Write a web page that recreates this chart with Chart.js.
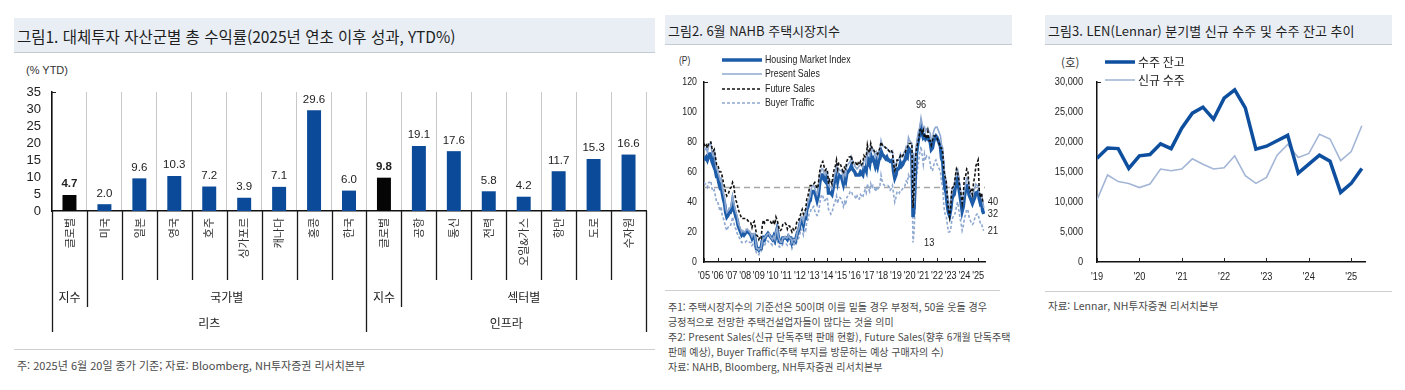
<!DOCTYPE html>
<html lang="ko">
<head>
<meta charset="utf-8">
<script src="https://cdn.jsdelivr.net/npm/chart.js@4.4.1/dist/chart.umd.min.js"></script>
<style>
  body { margin: 0; width: 1405px; height: 390px; background: #fff; position: relative; overflow: hidden;
         font-family: "Liberation Sans", "Noto Sans CJK KR", sans-serif; color: #222; }
  canvas { position: absolute; }
  .title { position: absolute; background: #e9eef5; border-bottom: 1px solid #c3cad4; box-sizing: border-box;
           white-space: nowrap; font-family: "Noto Sans CJK KR", sans-serif; color: #1e1e1e; }
  .rule { position: absolute; height: 0; border-top: 1.5px solid #cfcfcf; }
  .note { position: absolute; white-space: nowrap; color: #4a4a4a; font-family: "Noto Sans CJK KR", sans-serif; }
  .unit { position: absolute; white-space: nowrap; color: #333; }
</style>
</head>
<body>

<div class="title" style="left:14px; top:18px; width:641px; height:35px; font-size:15.5px; line-height:36px; padding-left:3px;">그림1. 대체투자 자산군별 총 수익률(2025년 연초 이후 성과, YTD%)</div>
<div class="unit" style="left:26px; top:64px; font-size:11px;">(% YTD)</div>
<canvas id="returnsChart" width="655" height="290" style="left:0; top:55px;"></canvas>
<div class="rule" style="left:14px; top:349px; width:641px;"></div>
<div class="note" style="left:17px; top:357px; font-size:11px;">주: 2025년 6월 20일 종가 기준; 자료: Bloomberg, NH투자증권 리서치본부</div>

<div class="title" style="left:665px; top:15px; width:347px; height:30px; font-size:13px; line-height:32px; padding-left:3px;">그림2. 6월 NAHB 주택시장지수</div>
<div class="unit" style="left:679px; top:55px; font-size:10px; transform:scaleX(0.85); transform-origin:left;">(P)</div>
<canvas id="nahbChart" width="340" height="240" style="left:664px; top:50px;"></canvas>
<div class="rule" style="left:665px; top:290px; width:335px;"></div>
<div class="note" style="left:668px; top:299px; font-size:10px;">주1: 주택시장지수의 기준선은 50이며 이를 밑돌 경우 부정적, 50을 웃돌 경우</div>
<div class="note" style="left:668px; top:314px; font-size:10px;">긍정적으로 전망한 주택건설업자들이 많다는 것을 의미</div>
<div class="note" style="left:668px; top:329px; font-size:10px;">주2: Present Sales(신규 단독주택 판매 현황), Future Sales(향후 6개월 단독주택</div>
<div class="note" style="left:668px; top:344px; font-size:10px;">판매 예상), Buyer Traffic(주택 부지를 방문하는 예상 구매자의 수)</div>
<div class="note" style="left:668px; top:359px; font-size:10px;">자료: NAHB, Bloomberg, NH투자증권 리서치본부</div>

<div class="title" style="left:1045px; top:15px; width:347px; height:30px; font-size:13px; line-height:32px; padding-left:3px;">그림3. LEN(Lennar) 분기별 신규 수주 및 수주 잔고 추이</div>
<div class="unit" style="left:1061px; top:54px; font-size:11.5px; font-family:'Noto Sans CJK KR';">(호)</div>
<canvas id="lennarChart" width="340" height="240" style="left:1050px; top:50px;"></canvas>
<div class="rule" style="left:1045px; top:291px; width:347px;"></div>
<div class="note" style="left:1048px; top:298px; font-size:10.5px;">자료: Lennar, NH투자증권 리서치본부</div>

<script>
// ===== 그림1: 자산군별 YTD 수익률 =====
const assetLabels = ['글로벌', '미국', '일본', '영국', '호주', '싱가포르', '캐나다', '홍콩', '한국',
                     '글로벌', '공항', '통신', '전력', '오일&가스', '항만', '도로', '수자원'];
const assetReturns = [4.7, 2.0, 9.6, 10.3, 7.2, 3.9, 7.1, 29.6, 6.0, 9.8, 19.1, 17.6, 5.8, 4.2, 11.7, 15.3, 16.6];
const indexSlots = [0, 9];   // 지수(글로벌) 막대는 검정
// 하단 그룹 라벨: [텍스트, 시작 인덱스, 끝 인덱스]
const groupRow1 = [['지수', 0, 0], ['국가별', 1, 8], ['지수', 9, 9], ['섹터별', 10, 16]];
const groupRow2 = [['리츠', 0, 8], ['인프라', 9, 16]];

// ===== 그림2: NAHB 주택시장지수 (월간, 2005.01 ~ 2025.06) =====
const nahbYears = ["'05", "'06", "'07", "'08", "'09", "'10", "'11", "'12", "'13", "'14", "'15",
                   "'16", "'17", "'18", "'19", "'20", "'21", "'22", "'23", "'24", "'25"];
const housingIndex = [
  70, 69, 70, 68, 70, 72, 72, 67, 65, 68, 61, 57,
  57, 53, 50, 51, 46, 42, 39, 33, 30, 31, 33, 33,
  35, 40, 36, 33, 30, 28, 24, 22, 20, 18, 19, 18,
  19, 20, 20, 20, 19, 18, 16, 18, 18, 14, 9, 9,
  8, 9, 9, 14, 16, 15, 17, 18, 19, 18, 17, 16,
  15, 17, 15, 19, 22, 17, 14, 13, 13, 16, 16, 16,
  16, 15, 17, 16, 16, 13, 15, 15, 14, 17, 20, 21,
  25, 28, 28, 25, 29, 29, 35, 37, 40, 41, 46, 47,
  47, 46, 44, 41, 44, 51, 56, 58, 58, 55, 54, 57,
  56, 46, 46, 46, 45, 49, 53, 55, 59, 54, 58, 57,
  57, 55, 52, 56, 54, 59, 60, 61, 62, 64, 62, 61,
  60, 58, 58, 58, 58, 60, 59, 58, 63, 63, 61, 69,
  67, 65, 71, 68, 69, 67, 64, 67, 64, 68, 69, 74,
  72, 71, 70, 69, 70, 68, 68, 67, 67, 68, 60, 56,
  58, 62, 62, 63, 66, 64, 65, 67, 68, 71, 70, 76,
  75, 74, 72, 30, 37, 58, 72, 78, 83, 85, 90, 86,
  83, 84, 82, 83, 83, 81, 80, 75, 76, 80, 83, 84,
  83, 81, 79, 77, 69, 67, 55, 49, 46, 38, 33, 31,
  35, 42, 44, 45, 50, 55, 56, 50, 45, 40, 34, 37,
  44, 48, 51, 51, 45, 43, 41, 39, 41, 43, 46, 46,
  47, 42, 39, 40, 34, 32
];
const presentSales = [
  76, 75, 76, 73, 77, 79, 79, 73, 71, 74, 66, 62,
  62, 58, 55, 56, 50, 46, 43, 36, 33, 34, 36, 36,
  38, 44, 40, 36, 33, 31, 26, 24, 22, 20, 21, 20,
  20, 22, 22, 21, 20, 19, 17, 19, 19, 15, 9, 9,
  8, 9, 9, 14, 16, 16, 17, 18, 19, 19, 17, 16,
  15, 17, 15, 20, 23, 17, 15, 13, 13, 16, 16, 17,
  16, 16, 18, 16, 16, 13, 15, 15, 14, 17, 21, 22,
  26, 30, 30, 27, 31, 31, 37, 40, 42, 44, 49, 51,
  51, 49, 47, 45, 48, 56, 60, 62, 62, 59, 58, 61,
  60, 51, 50, 50, 49, 53, 57, 60, 64, 59, 62, 61,
  61, 60, 56, 60, 58, 64, 65, 66, 67, 70, 67, 66,
  64, 63, 62, 63, 64, 65, 64, 63, 68, 68, 66, 74,
  73, 71, 77, 74, 75, 73, 70, 73, 70, 74, 75, 81,
  78, 77, 77, 76, 76, 75, 74, 73, 73, 74, 66, 61,
  64, 68, 68, 69, 72, 70, 70, 73, 74, 77, 76, 83,
  81, 80, 79, 36, 42, 63, 78, 84, 88, 90, 96, 92,
  89, 90, 87, 89, 89, 87, 86, 81, 82, 87, 89, 90,
  90, 88, 86, 84, 78, 76, 64, 57, 54, 45, 39, 36,
  40, 48, 49, 51, 56, 61, 62, 57, 51, 46, 40, 43,
  48, 52, 56, 56, 51, 48, 45, 45, 47, 49, 52, 51,
  51, 46, 45, 45, 40, 36
];
const futureSales = [
  79, 77, 78, 76, 79, 80, 80, 76, 74, 75, 70, 65,
  65, 62, 60, 60, 57, 53, 50, 46, 44, 45, 47, 49,
  50, 53, 51, 45, 41, 39, 35, 33, 31, 29, 29, 29,
  29, 29, 28, 27, 26, 26, 23, 26, 27, 23, 18, 17,
  15, 17, 16, 24, 28, 26, 27, 28, 28, 27, 27, 26,
  25, 28, 25, 30, 28, 25, 21, 21, 22, 25, 25, 26,
  25, 22, 24, 24, 22, 20, 22, 21, 21, 26, 28, 28,
  30, 33, 35, 32, 34, 35, 42, 44, 48, 51, 51, 52,
  52, 53, 51, 49, 51, 59, 63, 66, 67, 64, 61, 62,
  61, 52, 55, 54, 52, 58, 62, 64, 68, 62, 66, 66,
  64, 62, 59, 63, 62, 67, 69, 70, 70, 71, 66, 67,
  67, 66, 64, 66, 65, 67, 65, 66, 71, 70, 70, 78,
  74, 73, 79, 76, 76, 74, 73, 73, 72, 74, 76, 80,
  78, 78, 77, 76, 76, 75, 74, 73, 74, 73, 65, 61,
  63, 68, 68, 69, 71, 70, 71, 72, 73, 75, 76, 79,
  79, 79, 79, 36, 49, 68, 75, 79, 82, 88, 89, 86,
  88, 83, 84, 82, 87, 81, 81, 78, 81, 84, 84, 84,
  83, 80, 79, 76, 76, 73, 61, 57, 54, 44, 35, 30,
  37, 49, 50, 50, 57, 62, 60, 55, 50, 45, 39, 45,
  57, 57, 62, 61, 50, 47, 48, 45, 53, 57, 64, 66,
  68, 47, 43, 46, 40, 40
];
const buyerTraffic = [
  53, 52, 52, 50, 53, 53, 54, 49, 47, 48, 44, 40,
  40, 37, 34, 37, 31, 29, 26, 23, 21, 23, 24, 24,
  26, 30, 27, 23, 22, 19, 18, 16, 15, 13, 13, 13,
  13, 14, 14, 14, 13, 13, 11, 12, 12, 9, 6, 6,
  5, 7, 7, 10, 12, 11, 13, 14, 14, 13, 13, 12,
  11, 12, 12, 14, 16, 12, 10, 10, 10, 12, 12, 12,
  12, 11, 12, 12, 12, 9, 11, 12, 11, 13, 15, 16,
  19, 22, 21, 18, 22, 21, 27, 28, 32, 33, 36, 36,
  37, 34, 32, 31, 32, 37, 42, 45, 44, 41, 41, 43,
  42, 35, 34, 32, 33, 36, 39, 41, 44, 39, 43, 43,
  42, 40, 37, 40, 38, 43, 44, 45, 47, 47, 45, 45,
  44, 42, 44, 42, 42, 45, 44, 43, 46, 48, 46, 52,
  49, 47, 52, 49, 51, 50, 47, 49, 48, 51, 51, 58,
  54, 52, 51, 51, 51, 51, 50, 48, 49, 51, 45, 40,
  43, 47, 47, 46, 48, 48, 49, 50, 51, 54, 53, 58,
  56, 57, 56, 13, 21, 43, 56, 63, 68, 73, 77, 71,
  65, 72, 68, 71, 71, 70, 66, 61, 61, 64, 67, 68,
  65, 64, 62, 60, 53, 50, 37, 32, 31, 25, 20, 20,
  22, 28, 30, 31, 33, 37, 40, 35, 30, 26, 21, 24,
  29, 32, 35, 35, 30, 28, 26, 25, 26, 29, 31, 32,
  32, 28, 26, 26, 22, 21
];
const nahbBaseline = 50;

// ===== 그림3: Lennar 분기별 수주 (호) =====
const lenYears = ["'19", "'20", "'21", "'22", "'23", "'24", "'25"];
const orderBacklog = [17300, 19000, 18900, 15600, 17700, 17900, 19700, 18900, 22300, 24800, 25800, 23800, 27300,
                      28700, 25700, 18800, 19300, 20200, 21100, 14800, 16300, 17800, 16800, 11600, 13100, 15600];
const newOrders = [10350, 14500, 13400, 13100, 12400, 13000, 15500, 15200, 15500, 17200, 16300, 15500, 15700,
                   17700, 14400, 13100, 14100, 17800, 19600, 17400, 18100, 21300, 20500, 16900, 18400, 22700];

const NUM_FONT = '"Liberation Sans", sans-serif';
const KR_FONT = '"Noto Sans CJK KR", sans-serif';
const SQUEEZE = 0.8;   // 원본 그림2·3의 좁은 글꼴 폭

Chart.defaults.animation = false;
Chart.defaults.color = '#222';
Chart.defaults.plugins.legend.display = false;
Chart.defaults.plugins.tooltip.enabled = false;

// 인덱스 배열 -> {x, y} 점
const toPoints = arr => arr.map((v, i) => ({ x: i, y: v }));

// 가로로 좁힌 글자
function squeezedText(ctx, text, x, y, align) {
  ctx.save();
  ctx.translate(x, y);
  ctx.scale(SQUEEZE, 1);
  ctx.textAlign = align;
  ctx.fillText(text, 0, 0);
  ctx.restore();
}

// 축 안쪽으로 짧은 눈금 (x축 위쪽, y축 맨 위)
const innerTicksPlugin = {
  id: 'innerTicks',
  afterDraw(chart) {
    const { ctx, scales: { x, y } } = chart;
    ctx.save();
    ctx.strokeStyle = '#222';
    ctx.lineWidth = 1;
    ctx.beginPath();
    if (x.type === 'linear') {
      x.ticks.forEach(t => {
        const px = Math.round(x.getPixelForValue(t.value)) + 0.5;
        ctx.moveTo(px, y.bottom);
        ctx.lineTo(px, y.bottom - 4);
      });
    }
    ctx.moveTo(x.left, Math.round(y.top) + 0.5);
    ctx.lineTo(x.left + 4, Math.round(y.top) + 0.5);
    ctx.stroke();
    ctx.restore();
  }
};

// 좁은 글꼴로 축 라벨 직접 그리기 (그림2·3)
function squeezedTicks(xFont, yFont, xGap, yGap, xFmt, yFmt) {
  return {
    id: 'squeezedTicks',
    afterDraw(chart) {
      const { ctx, scales: { x, y } } = chart;
      ctx.save();
      ctx.fillStyle = '#222';
      ctx.textBaseline = 'middle';
      ctx.font = xFont;
      x.ticks.forEach(t => squeezedText(ctx, xFmt(t.value), x.getPixelForValue(t.value), y.bottom + xGap, 'center'));
      ctx.font = yFont;
      y.ticks.forEach(t => squeezedText(ctx, yFmt(t.value), x.left - yGap, y.getPixelForValue(t.value), 'right'));
      ctx.restore();
    }
  };
}

// 데이터셋 스타일로 범례 그리기
function lineLegend(order, rowY, x1, x2, textX, font, squeeze) {
  return {
    id: 'lineLegend',
    afterDraw(chart) {
      const ctx = chart.ctx;
      ctx.save();
      order.forEach((di, k) => {
        const ds = chart.data.datasets[di];
        ctx.strokeStyle = ds.borderColor;
        ctx.lineWidth = ds.borderWidth;
        ctx.setLineDash(ds.borderDash || []);
        ctx.beginPath();
        ctx.moveTo(x1, rowY[k]);
        ctx.lineTo(x2, rowY[k]);
        ctx.stroke();
        ctx.setLineDash([]);
        ctx.fillStyle = '#222';
        ctx.font = font;
        ctx.textBaseline = 'middle';
        if (squeeze) squeezedText(ctx, ds.label, textX, rowY[k], 'left');
        else { ctx.textAlign = 'left'; ctx.fillText(ds.label, textX, rowY[k]); }
      });
      ctx.restore();
    }
  };
}

// ---------- 그림1 ----------
const groupAxisPlugin = {
  id: 'groupAxis',
  afterDraw(chart) {
    const { ctx, scales: { x } } = chart;
    const half = (x.getPixelForValue(1) - x.getPixelForValue(0)) / 2;
    const edge = i => x.getPixelForValue(i) - half;
    const base = x.top;
    const row1Edges = new Set();
    const row2Edges = new Set();
    groupRow1.forEach(g => { row1Edges.add(g[1]); row1Edges.add(g[2] + 1); });
    groupRow2.forEach(g => { row2Edges.add(g[1]); row2Edges.add(g[2] + 1); });

    ctx.save();
    ctx.strokeStyle = '#1a1a1a';
    ctx.lineWidth = 1.3;
    for (let i = 0; i <= assetLabels.length; i++) {
      let depth = 69;
      if (row2Edges.has(i)) depth = 121;
      else if (row1Edges.has(i)) depth = 96;
      const px = Math.round(edge(i)) + 0.5;
      ctx.beginPath();
      ctx.moveTo(px, base);
      ctx.lineTo(px, base + depth);
      ctx.stroke();
    }
    ctx.fillStyle = '#222';
    ctx.font = '12px ' + KR_FONT;
    ctx.textAlign = 'center';
    ctx.textBaseline = 'middle';
    groupRow1.forEach(([t, a, b]) => ctx.fillText(t, (edge(a) + edge(b + 1)) / 2, base + 86));
    groupRow2.forEach(([t, a, b]) => ctx.fillText(t, (edge(a) + edge(b + 1)) / 2, base + 112));
    ctx.restore();
  }
};

const barValuePlugin = {
  id: 'barValues',
  afterDatasetsDraw(chart) {
    const ctx = chart.ctx;
    ctx.save();
    ctx.fillStyle = '#222';
    ctx.textAlign = 'center';
    ctx.textBaseline = 'bottom';
    chart.getDatasetMeta(0).data.forEach((bar, i) => {
      ctx.font = (indexSlots.includes(i) ? 'bold ' : '') + '11.5px ' + NUM_FONT;
      ctx.fillText(assetReturns[i].toFixed(1), bar.x, bar.y - 5);
    });
    ctx.restore();
  }
};

new Chart(document.getElementById('returnsChart'), {
  type: 'bar',
  data: {
    labels: assetLabels,
    datasets: [{
      data: assetReturns,
      backgroundColor: assetReturns.map((_, i) => indexSlots.includes(i) ? '#050505' : '#0b4a98'),
      barPercentage: 0.4,
      categoryPercentage: 1
    }]
  },
  options: {
    responsive: false,
    layout: { padding: { left: 0, top: 37, right: 9, bottom: 74 } },
    scales: {
      x: {
        afterFit: s => { s.height = 60; },
        grid: { offset: true, color: '#c9c9c9', lineWidth: 1, drawTicks: false },
        border: { color: '#111', width: 1.5 },
        ticks: { minRotation: 90, maxRotation: 90, autoSkip: false, padding: 7,
                 font: { family: KR_FONT, size: 11 }, color: '#333' }
      },
      y: {
        min: 0, max: 35,
        afterFit: s => { s.width = 52; },
        grid: { display: false, drawTicks: false },
        border: { color: '#111', width: 1.5 },
        ticks: { stepSize: 5, autoSkip: false, padding: 11, font: { family: NUM_FONT, size: 13 }, color: '#222' }
      }
    }
  },
  plugins: [groupAxisPlugin, barValuePlugin, innerTicksPlugin]
});

// ---------- 그림2 ----------
const nahbNotes = {
  id: 'nahbNotes',
  beforeDatasetsDraw(chart) {
    const { ctx, scales: { x, y } } = chart;
    const py = Math.round(y.getPixelForValue(nahbBaseline)) + 0.5;
    ctx.save();
    ctx.strokeStyle = '#a6a6a6';
    ctx.lineWidth = 1.5;
    ctx.setLineDash([6, 4]);
    ctx.beginPath();
    ctx.moveTo(x.left, py);
    ctx.lineTo(x.right, py);
    ctx.stroke();
    ctx.restore();
  },
  afterDraw(chart) {
    const { ctx, scales: { x, y } } = chart;
    ctx.save();
    ctx.fillStyle = '#222';
    ctx.font = '11.5px ' + NUM_FONT;
    ctx.textBaseline = 'middle';
    // 최고치 (Present Sales)
    const hi = presentSales.indexOf(Math.max(...presentSales));
    squeezedText(ctx, String(presentSales[hi]), x.getPixelForValue(hi), y.getPixelForValue(presentSales[hi]) - 13, 'center');
    // 최저치 (Buyer Traffic, 2020)
    const lo = buyerTraffic.indexOf(Math.min(...buyerTraffic.slice(180)), 180);
    squeezedText(ctx, String(buyerTraffic[lo]), x.getPixelForValue(lo) + 11, y.getPixelForValue(buyerTraffic[lo]), 'left');
    // 최근 값
    const last = housingIndex.length - 1;
    [futureSales, housingIndex, buyerTraffic].forEach(arr => {
      squeezedText(ctx, String(arr[last]), x.getPixelForValue(last) + 4, y.getPixelForValue(arr[last]), 'left');
    });
    ctx.restore();
  }
};

new Chart(document.getElementById('nahbChart'), {
  type: 'line',
  data: {
    datasets: [
      { label: 'Housing Market Index', data: toPoints(housingIndex), borderColor: '#1d5ca8', borderWidth: 3.5, order: 3 },
      { label: 'Present Sales', data: toPoints(presentSales), borderColor: '#8ea8cf', borderWidth: 1.6, order: 2 },
      { label: 'Future Sales', data: toPoints(futureSales), borderColor: '#111', borderWidth: 1.6, borderDash: [3, 2], order: 1 },
      { label: 'Buyer Traffic', data: toPoints(buyerTraffic), borderColor: '#8ea8cf', borderWidth: 1.6, borderDash: [3, 2], order: 4 }
    ]
  },
  options: {
    responsive: false,
    elements: { point: { radius: 0 }, line: { tension: 0 } },
    layout: { padding: { left: 0, top: 32, right: 19, bottom: 6 } },
    scales: {
      x: {
        type: 'linear', min: 0, max: 246,
        afterFit: s => { s.height = 22; },
        afterBuildTicks: s => { s.ticks = nahbYears.map((_, i) => ({ value: i * 12 })); },
        grid: { display: false, drawTicks: false },
        border: { color: '#111', width: 1.5 },
        ticks: { display: false }
      },
      y: {
        min: 0, max: 120,
        afterFit: s => { s.width = 40; },
        afterBuildTicks: s => { s.ticks = [0, 20, 40, 60, 80, 100, 120].map(v => ({ value: v })); },
        grid: { display: false, drawTicks: false },
        border: { color: '#111', width: 1.5 },
        ticks: { display: false }
      }
    }
  },
  plugins: [nahbNotes, innerTicksPlugin,
            squeezedTicks('11.5px ' + NUM_FONT, '11px ' + NUM_FONT, 14, 7, v => nahbYears[v / 12], v => String(v)),
            lineLegend([0, 1, 2, 3], [10, 24, 39, 53], 58, 98, 101, '11px ' + NUM_FONT, true)]
});

// ---------- 그림3 ----------
new Chart(document.getElementById('lennarChart'), {
  type: 'line',
  data: {
    datasets: [
      { label: '수주 잔고', data: toPoints(orderBacklog), borderColor: '#0d4f9e', borderWidth: 3.5 },
      { label: '신규 수주', data: toPoints(newOrders), borderColor: '#a3b6d6', borderWidth: 1.6 }
    ]
  },
  options: {
    responsive: false,
    elements: { point: { radius: 0 }, line: { tension: 0 } },
    layout: { padding: { left: 0, top: 32, right: 25, bottom: 6 } },
    scales: {
      x: {
        type: 'linear', min: 0, max: 25.3,
        afterFit: s => { s.height = 22; },
        afterBuildTicks: s => { s.ticks = lenYears.map((_, i) => ({ value: i * 4 })); },
        grid: { display: false, drawTicks: false },
        border: { color: '#111', width: 1.5 },
        ticks: { display: false }
      },
      y: {
        min: 0, max: 30000,
        afterFit: s => { s.width = 47; },
        afterBuildTicks: s => { s.ticks = [0, 5000, 10000, 15000, 20000, 25000, 30000].map(v => ({ value: v })); },
        grid: { display: false, drawTicks: false },
        border: { color: '#111', width: 1.5 },
        ticks: { display: false }
      }
    }
  },
  plugins: [innerTicksPlugin,
            squeezedTicks('11.5px ' + NUM_FONT, '11.5px ' + NUM_FONT, 15, 14, v => lenYears[v / 4], v => v.toLocaleString('en-US')),
            lineLegend([0, 1], [12, 30], 55, 85, 88, '12px ' + KR_FONT, false)]
});
</script>
</body>
</html>
